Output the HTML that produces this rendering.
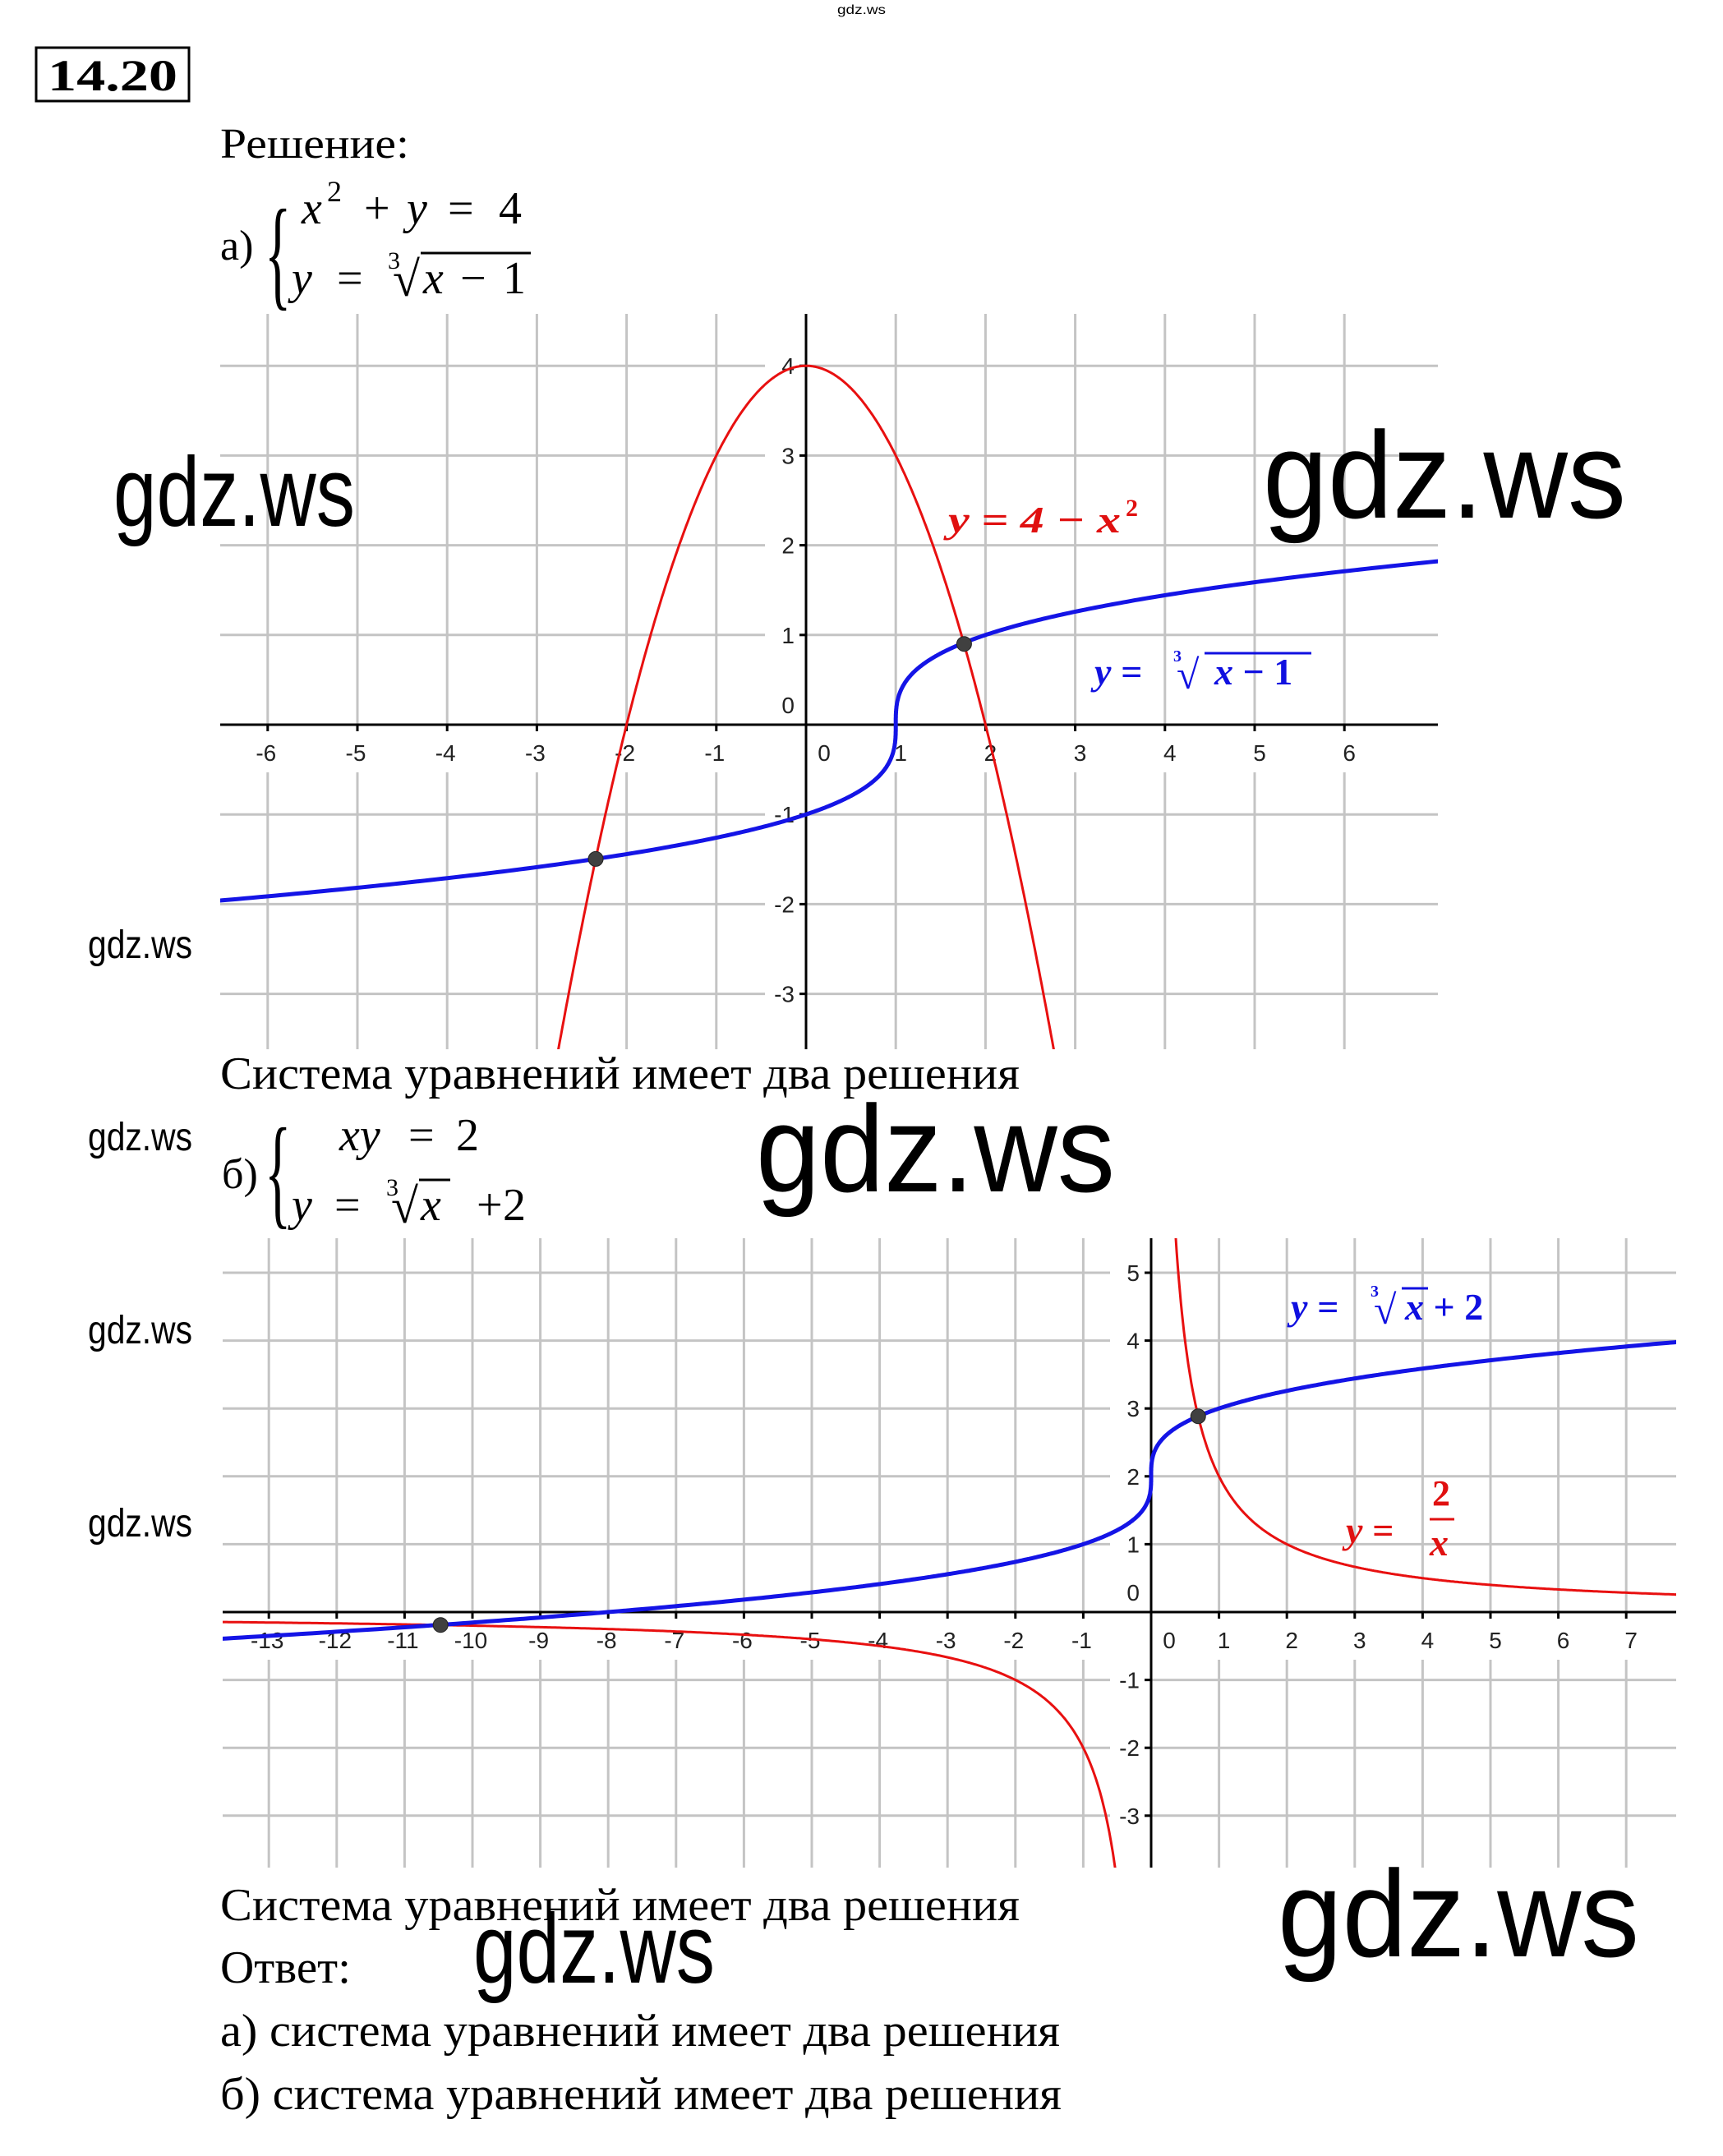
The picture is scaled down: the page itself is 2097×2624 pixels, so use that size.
<!DOCTYPE html>
<html><head><meta charset="utf-8"><style>
html,body{margin:0;padding:0;background:#fff}
svg{display:block}
.serif{font-family:"Liberation Serif","DejaVu Serif",serif}
.sans{font-family:"Liberation Sans","DejaVu Sans",sans-serif}
.tick{font-family:"Liberation Sans",sans-serif;font-size:28px;fill:#222}
.wm{font-family:"Liberation Sans",sans-serif;fill:#000}
</style></head><body>
<svg id="page" width="2097" height="2624" viewBox="0 0 2097 2624" xmlns="http://www.w3.org/2000/svg">
<rect width="2097" height="2624" fill="#fff"/>
<text class="wm" x="1019" y="17" font-size="16" fill="#6670b0" textLength="59" lengthAdjust="spacingAndGlyphs">gdz.ws</text>
<g>
<rect x="44" y="58" width="186" height="65" fill="none" stroke="#000" stroke-width="3"/>
<text class="serif" x="58" y="110" font-size="54" font-weight="bold" textLength="158" lengthAdjust="spacingAndGlyphs">14.20</text>
</g>
<text class="serif" x="268" y="192" font-size="52" textLength="230" lengthAdjust="spacingAndGlyphs">Решение:</text>
<g class="serif" font-size="56">
<text x="268" y="316" font-size="52">а)</text>
<text x="322" y="358" font-size="150" transform="translate(322 0) scale(0.45 1) translate(-322 0)">{</text>
<text x="367" y="272" font-style="italic">x</text>
<text x="398" y="245" font-size="36">2</text>
<text x="443" y="272">+</text>
<text x="495" y="272" font-style="italic">y</text>
<text x="545" y="272">=</text>
<text x="607" y="272">4</text>
<text x="355" y="357" font-style="italic">y</text>
<text x="410" y="357">=</text>
<text x="472" y="327" font-size="30">3</text>
<text x="478" y="360" font-size="60">√</text>
<line x1="512" y1="308" x2="646" y2="308" stroke="#000" stroke-width="3"/>
<text x="515" y="357" font-style="italic">x</text>
<text x="560" y="357">−</text>
<text x="612" y="357">1</text>
</g>
<text class="serif" x="268" y="1325" font-size="56" textLength="973" lengthAdjust="spacingAndGlyphs">Система уравнений имеет два решения</text>
<g class="serif" font-size="56">
<text x="270" y="1446" font-size="52">б)</text>
<text x="322" y="1476" font-size="150" transform="translate(322 0) scale(0.45 1) translate(-322 0)">{</text>
<text x="413" y="1400" font-style="italic">xy</text>
<text x="497" y="1400">=</text>
<text x="555" y="1400">2</text>
<text x="355" y="1485" font-style="italic">y</text>
<text x="407" y="1485">=</text>
<text x="470" y="1455" font-size="30">3</text>
<text x="476" y="1488" font-size="60">√</text>
<line x1="510" y1="1436" x2="548" y2="1436" stroke="#000" stroke-width="3"/>
<text x="512" y="1485" font-style="italic">x</text>
<text x="580" y="1485">+</text>
<text x="612" y="1485">2</text>
</g>
<g id="chart1"></g>
<g id="chart2"></g>
<g class="serif" font-weight="bold" font-style="italic">
<text x="1154" y="648" font-size="46" fill="#e01010" textLength="210" lengthAdjust="spacingAndGlyphs">y = 4 − x</text>
<text x="1370" y="628" font-size="30" fill="#e01010" font-style="normal">2</text>
<g fill="#1010e0">
<text x="1332" y="833" font-size="46">y =</text>
<text x="1428" y="805" font-size="20" font-style="normal">3</text>
<text x="1432" y="838" font-size="50" font-style="normal">√</text>
<line x1="1466" y1="795" x2="1596" y2="795" stroke="#1010e0" stroke-width="3"/>
<text x="1478" y="833" font-size="46">x <tspan font-style="normal">− 1</tspan></text>
</g>
</g>
<g class="serif" font-weight="bold" font-style="italic">
<g fill="#1010e0">
<text x="1571" y="1606" font-size="46">y =</text>
<text x="1668" y="1578" font-size="20" font-style="normal">3</text>
<text x="1672" y="1611" font-size="50" font-style="normal">√</text>
<line x1="1706" y1="1568" x2="1738" y2="1568" stroke="#1010e0" stroke-width="3"/>
<text x="1710" y="1606" font-size="46">x <tspan font-style="normal">+ 2</tspan></text>
</g>
<g fill="#e01010">
<text x="1638" y="1878" font-size="46">y =</text>
<text x="1743" y="1832" font-size="44" font-style="normal">2</text>
<line x1="1740" y1="1849" x2="1770" y2="1849" stroke="#e01010" stroke-width="3"/>
<text x="1740" y="1893" font-size="46">x</text>
</g>
</g>
<text class="serif" x="268" y="2337" font-size="56" textLength="973" lengthAdjust="spacingAndGlyphs">Система уравнений имеет два решения</text>
<text class="serif" x="268" y="2413" font-size="56" textLength="159" lengthAdjust="spacingAndGlyphs">Ответ:</text>
<text class="serif" x="268" y="2490" font-size="56" textLength="1022" lengthAdjust="spacingAndGlyphs">а) система уравнений имеет два решения</text>
<text class="serif" x="268" y="2567" font-size="56" textLength="1024" lengthAdjust="spacingAndGlyphs">б) система уравнений имеет два решения</text>
<g>
<text class="wm" x="138" y="640" font-size="120" textLength="294" lengthAdjust="spacingAndGlyphs">gdz.ws</text>
<text class="wm" x="1537" y="630" font-size="150" textLength="442" lengthAdjust="spacingAndGlyphs">gdz.ws</text>
<text class="wm" x="107" y="1166" font-size="48" textLength="127" lengthAdjust="spacingAndGlyphs">gdz.ws</text>
<text class="wm" x="107" y="1400" font-size="48" textLength="127" lengthAdjust="spacingAndGlyphs">gdz.ws</text>
<text class="wm" x="920" y="1450" font-size="150" textLength="437" lengthAdjust="spacingAndGlyphs">gdz.ws</text>
<text class="wm" x="107" y="1635" font-size="48" textLength="127" lengthAdjust="spacingAndGlyphs">gdz.ws</text>
<text class="wm" x="107" y="1870" font-size="48" textLength="127" lengthAdjust="spacingAndGlyphs">gdz.ws</text>
<text class="wm" x="1555" y="2381" font-size="150" textLength="440" lengthAdjust="spacingAndGlyphs">gdz.ws</text>
<text class="wm" x="576" y="2413" font-size="120" textLength="294" lengthAdjust="spacingAndGlyphs">gdz.ws</text>
</g>
</svg>
<script>
// Chart A data
const c1XTicks = [-6,-5,-4,-3,-2,-1,1,2,3,4,5,6];
const c1YTicks = [-3,-2,-1,1,2,3,4];
const c1Points = [[1.762,0.90],[-2.344,-1.496]];
const c1ParabolaA = 4; // y = 4 - x^2
const c1RootShift = 1; // y = cbrt(x - 1)
// Chart B data
const c2XTicks = [-13,-12,-11,-10,-9,-8,-7,-6,-5,-4,-3,-2,-1,1,2,3,4,5,6,7];
const c2YTicks = [-3,-2,-1,1,2,3,4,5];
const c2Points = [[0.693,2.885],[-10.47,-0.19]];
const c2K = 2;      // y = 2/x
const c2Shift = 2;  // y = cbrt(x) + 2

const NS='http://www.w3.org/2000/svg';
function mk(tag, attrs, parent){const e=document.createElementNS(NS,tag);for(const k in attrs)e.setAttribute(k,attrs[k]);parent.appendChild(e);return e;}

function chart(g, cfg){
  const sx=x=>cfg.ox+x*cfg.u, sy=y=>cfg.oy-y*cfg.u;
  const clipId=cfg.id+'clip';
  const defs=mk('defs',{},g);
  const cp=mk('clipPath',{id:clipId},defs);
  mk('rect',{x:cfg.L,y:cfg.T,width:cfg.R-cfg.L,height:cfg.B-cfg.T},cp);
  const grid=mk('g',{},g);
  
  
  cfg.xt.forEach(v=>{mk('line',{x1:sx(v),x2:sx(v),y1:cfg.T,y2:cfg.B,stroke:'#c4c4c4','stroke-width':3},grid);});
  cfg.yt.forEach(v=>{mk('line',{x1:cfg.L,x2:cfg.R,y1:sy(v),y2:sy(v),stroke:'#c4c4c4','stroke-width':3},grid);});
  mk('rect',{x:cfg.L,y:cfg.oy+4,width:cfg.R-cfg.L,height:54,fill:'#fff'},g);
  cfg.yt.forEach(v=>{mk('rect',{x:cfg.ox-50,y:sy(v)-20,width:42,height:40,fill:'#fff'},g);});
  mk('rect',{x:cfg.ox-50,y:cfg.oy-52,width:42,height:44,fill:'#fff'},g);
  const ax=mk('line',{x1:cfg.L,x2:cfg.R,y1:cfg.oy,y2:cfg.oy,stroke:'#000','stroke-width':3},g);
  
  
  const ay=mk('line',{x1:cfg.ox,x2:cfg.ox,y1:cfg.T,y2:cfg.B,stroke:'#000','stroke-width':3},g);
  
  
  cfg.xt.forEach(v=>{
    mk('line',{x1:sx(v),x2:sx(v),y1:cfg.oy,y2:cfg.oy+8,stroke:'#000','stroke-width':3},g);
    const t=mk('text',{x:sx(v)+(v>0?6:-2),y:cfg.oy+44,'text-anchor':'middle',class:'tick'},g);
    
    
    t.textContent=(v<0?'-':'')+Math.abs(v);
  });
  cfg.yt.forEach(v=>{
    mk('line',{x1:cfg.ox-8,x2:cfg.ox,y1:sy(v),y2:sy(v),stroke:'#000','stroke-width':3},g);
    const t=mk('text',{x:cfg.ox-14,y:sy(v)+10,'text-anchor':'end',class:'tick'},g);
    
    
    t.textContent=(v<0?'-':'')+Math.abs(v);
  });
  let t0=mk('text',{x:cfg.ox-14,y:cfg.oy-14,'text-anchor':'end',class:'tick'},g);
  
  
  t0.textContent='0';
  let t1=mk('text',{x:cfg.ox+22,y:cfg.oy+44,'text-anchor':'middle',class:'tick'},g);
  
  
  t1.textContent='0';
  const curves=mk('g',{'clip-path':'url(#'+clipId+')'},g);
  cfg.curves.forEach(c=>{
    let d='';
    c.pts.forEach((p,i)=>{d+=(i?'L':'M')+sx(p[0]).toFixed(1)+' '+sy(p[1]).toFixed(1);});
    const p=mk('path',{d:d,fill:'none',stroke:c.color,'stroke-width':c.w},curves);
    
    
  });
  cfg.pts.forEach(pt=>{
    const c=mk('circle',{cx:sx(pt[0]),cy:sy(pt[1]),r:9,fill:'#404040',stroke:'#222','stroke-width':1},g);
    
    
  });
}
function sample(f,a,b,n){const r=[];for(let i=0;i<=n;i++){const t=a+(b-a)*i/n;r.push(f(t));}return r;}

chart(document.getElementById('chart1'),{id:'c1',ox:981,oy:882,u:109.2,L:268,R:1750,T:382,B:1277,
  xt:c1XTicks,yt:c1YTicks,pts:c1Points,
  curves:[
    {name:'parabola-curve',color:'#e81010',w:3,pts:sample(x=>[x,c1ParabolaA-x*x],-3,3,400)},
    {name:'cuberoot-curve',color:'#1414e6',w:5,pts:sample(t=>[c1RootShift+t*t*t,t],-2.2,2.2,600)}
  ]});
chart(document.getElementById('chart2'),{id:'c2',ox:1401,oy:1962,u:82.6,L:271,R:2040,T:1507,B:2273,
  xt:c2XTicks,yt:c2YTicks,pts:c2Points,
  curves:[
    {name:'hyperbola-right',color:'#e81010',w:3,pts:sample(x=>[x,c2K/x],0.3,8,500)},
    {name:'hyperbola-left',color:'#e81010',w:3,pts:sample(x=>[x,c2K/x],-14,-0.4,500)},
    {name:'cuberoot-plus-2-curve',color:'#1414e6',w:5,pts:sample(t=>[t*t*t,t+c2Shift],-2.5,2.1,700)}
  ]});
</script>
</body></html>
